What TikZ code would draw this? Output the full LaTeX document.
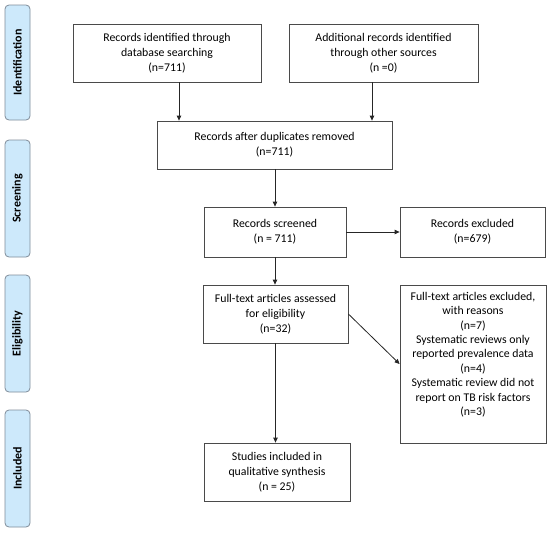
\documentclass[tikz,border=0pt]{standalone}
\usepackage{fontspec}
\setmainfont{Carlito}
\usetikzlibrary{arrows.meta}
\definecolor{phasefill}{HTML}{CDE9FB}
\definecolor{phasedraw}{HTML}{7F8C99}
\definecolor{boxdraw}{HTML}{4A4A4A}
\begin{document}
\begin{tikzpicture}[x=1pt,y=-1pt,
  box/.style={draw=boxdraw,line width=0.8pt,fill=white,align=center,inner sep=2pt,
    font=\fontsize{11.8}{15.2}\selectfont},
  phase/.style={draw=phasedraw,line width=0.8pt,fill=phasefill,rounded corners=4pt,
    rotate=90,minimum height=25pt,inner sep=0pt,font=\fontsize{12}{14}\selectfont\bfseries},
  arr/.style={draw=black!85,line width=0.8pt,-{Triangle[length=5pt,width=4.5pt]}}]
\useasboundingbox (0,0) rectangle (550,533);
% phase labels
\node[phase,minimum width=115pt] (p1) at (17.5,62.5) {Identification};
\node[phase,minimum width=117pt] (p2) at (17.5,198.5) {Screening};
\node[phase,minimum width=117pt] (p3) at (17.5,333.5) {Eligibility};
\node[phase,minimum width=117pt] (p4) at (17.5,468.5) {Included};
% boxes
\node[box,minimum width=188pt,minimum height=58pt] (b1) at (167,53)
  {Records identified through\\database searching\\(n=711)};
\node[box,minimum width=189pt,minimum height=58pt] (b2) at (383.5,53)
  {Additional records identified\\through other sources\\(n =0)};
\node[box,minimum width=235pt,minimum height=48pt] (b3) at (274.5,145)
  {Records after duplicates removed\\(n=711)};
\node[box,minimum width=142pt,minimum height=50pt] (b4) at (275,232)
  {Records screened\\(n = 711)};
\node[box,minimum width=145pt,minimum height=50pt] (b5) at (472.5,232)
  {Records excluded\\(n=679)};
\node[box,minimum width=145pt,minimum height=58pt] (b6) at (275.5,314)
  {Full-text articles assessed\\for eligibility\\(n=32)};
\node[box,minimum width=146pt,minimum height=158pt,font=\fontsize{11.8}{14.4}\selectfont] (b7) at (473,364)
  {Full-text articles excluded,\\with reasons\\(n=7)\\Systematic reviews only\\reported prevalence data\\(n=4)\\Systematic review did not\\report on TB risk factors\\(n=3)\\[6pt]};
\node[box,minimum width=146pt,minimum height=58pt] (b8) at (277,472)
  {Studies included in\\qualitative synthesis\\(n = 25)};
% connectors
\draw[arr] (b1.south -| 179,0) -- (b3.north -| 179,0);
\draw[arr] (b2.south -| 372,0) -- (b3.north -| 372,0);
\draw[arr] (b3.south -| b4.north) -- (b4.north);
\draw[arr] (b4.east) -- (b5.west);
\draw[arr] (b4.south) -- (b4.south |- b6.north);
\draw[arr] (b6.south) -- (b6.south |- b8.north);
\draw[arr] (b6.east) -- (b7.west);
\end{tikzpicture}
\end{document}
